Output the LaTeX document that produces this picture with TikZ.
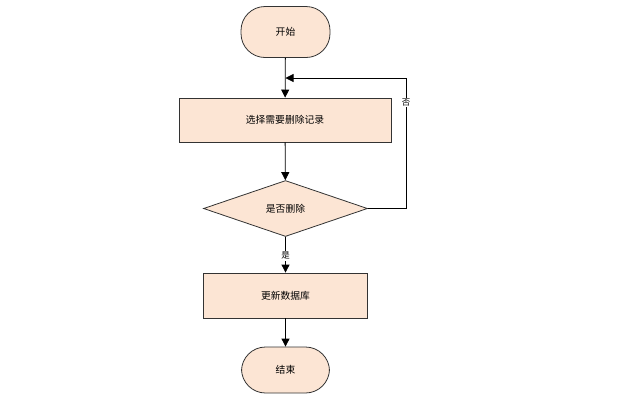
\documentclass[tikz,border=0pt]{standalone}
\usepackage{fontspec}
\setmainfont{Noto Sans CJK SC}
\usetikzlibrary{shapes.geometric,arrows.meta}
\definecolor{boxfill}{HTML}{FCE5D4}
\definecolor{boxline}{HTML}{333333}
\begin{document}
\begin{tikzpicture}[x=1bp,y=-1bp,
  base/.style={draw=boxline,fill=boxfill,line width=0.8bp,font=\fontsize{9.8}{11}\selectfont,inner sep=0pt},
  term/.style={base,rectangle,rounded corners=24bp,minimum width=89bp,minimum height=51bp},
  proc/.style={base,rectangle,minimum width=#1,minimum height=44bp},
  dec/.style={base,diamond,aspect=2.95,minimum width=164bp,minimum height=56bp},
  arr/.style={-{Triangle[length=8bp,width=8bp]},line width=0.8bp,black},
  lbl/.style={fill=white,inner sep=1bp,font=\fontsize{8.5}{10}\selectfont}]
\useasboundingbox (0,0) rectangle (624,397);
\node[term] (start) at (285.5,32) {开始};
\node[proc=212bp] (sel) at (285,120) {选择需要删除记录};
\node[dec] (dec) at (285.5,208.5) {是否删除};
\node[proc=164bp,minimum height=45bp] (upd) at (285.5,295.5) {更新数据库};
\node[term,minimum width=88bp,minimum height=46bp] (end) at (285.5,370) {结束};
\coordinate (jn) at (285.5,78);
\coordinate (rc) at (406,78);
\draw[arr] (start) -- (sel);
\draw[arr] (sel) -- (dec);
\draw[arr] (dec) -- node[lbl,pos=0.53] {是} (upd);
\draw[arr] (upd) -- (end);
\draw[arr] (dec.east) -| node[lbl,pos=0.905] {否} (rc) -- (jn);
\end{tikzpicture}
\end{document}
